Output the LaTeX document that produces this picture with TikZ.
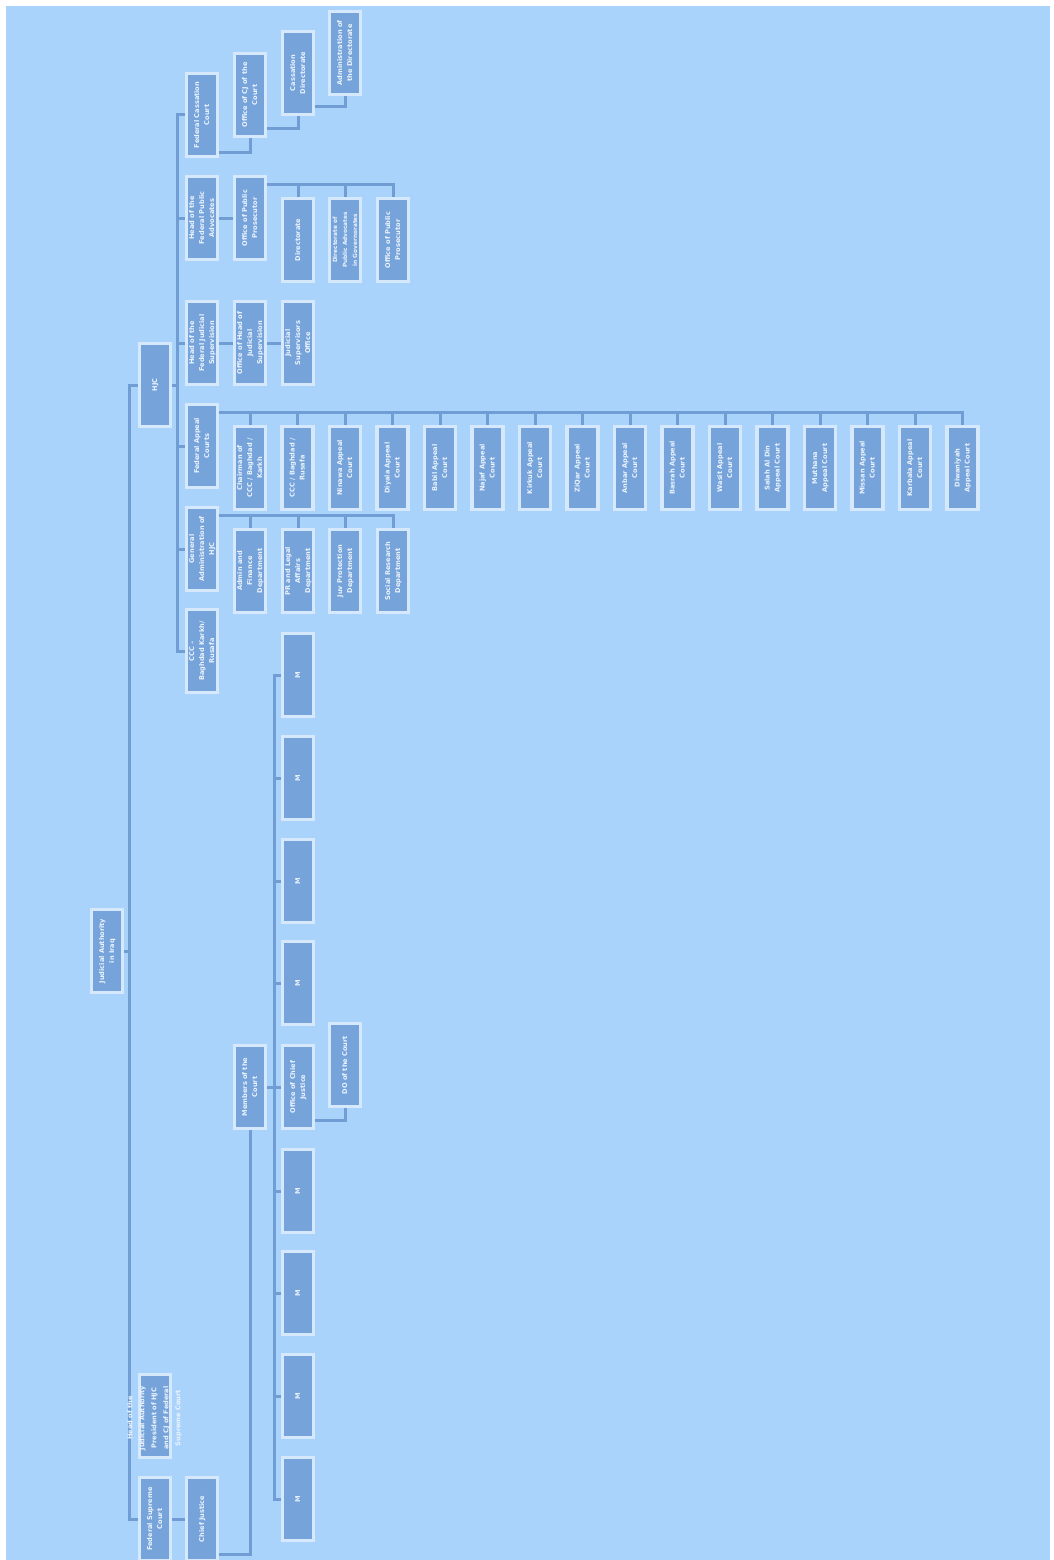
\documentclass[tikz,border=0pt]{standalone}
\usepackage{fontspec}
\setmainfont{DejaVu Sans}
\usepackage{graphicx}
\definecolor{bg}{RGB}{170,211,252}
\definecolor{boxf}{RGB}{118,163,217}
\definecolor{boxd}{RGB}{214,233,252}
\definecolor{conn}{RGB}{112,157,212}
\definecolor{txt}{RGB}{236,244,255}
\newcommand{\rt}[1]{\rotatebox{90}{\begin{tabular}{@{}c@{}}#1\end{tabular}}}
\tikzset{
  box/.style={draw=boxd, line width=3.5pt, fill=boxf, minimum width=31pt, minimum height=83pt,
    inner sep=0pt, text=txt, font=\fontsize{6.6}{10}\selectfont\bfseries},
  cn/.style={draw=conn, line width=3pt},
}
\begin{document}
\begin{tikzpicture}[x=1pt,y=-1pt]
\useasboundingbox (0,0) rectangle (1054,1560);
\fill[white] (0,0) rectangle (1054,1560);
\fill[bg] (6,6) rectangle (1050,1560);

% root and top level
\node[box] (ja) at (107,951) {\rt{Judicial Authority\\in Iraq}};
\node[box] (hjc) at (155,385) {\rt{HJC}};
\node[box] (fsc) at (155,1519) {\rt{Federal Supreme\\Court}};
\node[box] (cj) at (202,1519) {\rt{Chief Justice}};
\node[box] (hoja) at (155,1416) {};

% HJC children
\node[box] (fcc) at (202,115) {\rt{Federal Cassation\\Court}};
\node[box] (hpa) at (202,218) {\rt{Head of the\\Federal Public\\Advocates}};
\node[box] (hjs) at (202,343) {\rt{Head of the\\Federal Judicial\\Supervision}};
\node[box] (fac) at (202,446) {\rt{Federal Appeal\\Courts}};
\node[box] (gah) at (202,549) {\rt{General\\Administration of\\HJC}};
\node[box] (ccc) at (202,651) {\rt{CCC --\\Baghdad Karkh/\\Rusafa}};

% cassation chain
\node[box] (ocj) at (250,95) {\rt{Office of CJ of the\\Court}};
\node[box] (cdir) at (298,73) {\rt{Cassation\\Directorate}};
\node[box] (adir) at (345,53) {\rt{Administration of\\the Directorate}};

% public advocates
\node[box] (opp) at (250,218) {\rt{Office of Public\\Prosecutor}};
\node[box] (dir) at (298,240) {\rt{Directorate}};
\node[box, font=\fontsize{5.8}{10}\selectfont\bfseries] (dpa) at (345,240) {\rt{Directorate of\\Public Advocates\\in Governorates}};
\node[box] (oppb) at (393,240) {\rt{Office of Public\\Prosecutor}};

% judicial supervision
\node[box] (ohj) at (250,343) {\rt{Office of Head of\\Judicial\\Supervision}};
\node[box] (jso) at (298,343) {\rt{Judicial\\Supervisors\\Office}};

% appeal courts
\node[box] (a1) at (250,468) {\rt{Chairman of\\CCC / Baghdad /\\Karkh}};
\node[box] (a2) at (297.5,468) {\rt{CCC / Baghdad /\\Rusafa}};
\node[box] (a3) at (345,468) {\rt{Ninawa Appeal\\Court}};
\node[box] (a4) at (392.5,468) {\rt{Diyala Appeal\\Court}};
\node[box] (a5) at (440,468) {\rt{Babil Appeal\\Court}};
\node[box] (a6) at (487.5,468) {\rt{Najaf Appeal\\Court}};
\node[box] (a7) at (535,468) {\rt{Kirkuk Appeal\\Court}};
\node[box] (a8) at (582.5,468) {\rt{ZiQar Appeal\\Court}};
\node[box] (a9) at (630,468) {\rt{Anbar Appeal\\Court}};
\node[box] (a10) at (677.5,468) {\rt{Basrah Appeal\\Court}};
\node[box] (a11) at (725,468) {\rt{Wasit Appeal\\Court}};
\node[box] (a12) at (772.5,468) {\rt{Salah Al Din\\Appeal Court}};
\node[box] (a13) at (820,468) {\rt{Muthana\\Appeal Court}};
\node[box] (a14) at (867.5,468) {\rt{Missan Appeal\\Court}};
\node[box] (a15) at (915,468) {\rt{Karbala Appeal\\Court}};
\node[box] (a16) at (962.5,468) {\rt{Diwaniyah\\Appeal Court}};

% departments
\node[box] (d1) at (250,571) {\rt{Admin and\\Finance\\Department}};
\node[box] (d2) at (298,571) {\rt{PR and Legal\\Affairs\\Department}};
\node[box] (d3) at (345,571) {\rt{Juv Protection\\Department}};
\node[box] (d4) at (393,571) {\rt{Social Research\\Department}};

% supreme court members
\node[box] (mem) at (250,1087) {\rt{Members of the\\Court}};
\node[box] (m1) at (298,675) {\rt{M}};
\node[box] (m2) at (298,778) {\rt{M}};
\node[box] (m3) at (298,881) {\rt{M}};
\node[box] (m4) at (298,983) {\rt{M}};
\node[box] (ocjs) at (298,1087) {\rt{Office of Chief\\Justice}};
\node[box] (m5) at (298,1191) {\rt{M}};
\node[box] (m6) at (298,1293) {\rt{M}};
\node[box] (m7) at (298,1396) {\rt{M}};
\node[box] (m8) at (298,1499) {\rt{M}};
\node[box] (doc) at (345,1065) {\rt{DO of the Court}};

% connectors: main
\draw[cn] (hjc.west) -- ++(-8,0) |- (fsc.west);
\coordinate (mb) at (130,951);
\draw[cn] (ja.east) -- (mb);

% HJC bus
\draw[cn] (fcc.west) -- ++(-7,0) |- (ccc.west);
\foreach \n in {hpa,hjs,fac,gah} \draw[cn] (\n.west) -- ++(-7,0);
\draw[cn] (hjc.east) -- ++(6,0);

% cassation chain
\draw[cn] (fcc.south east) ++(0,-6) -| (ocj.south);
\draw[cn] (ocj.south east) ++(0,-10) -| (cdir.south);
\draw[cn] (cdir.south east) ++(0,-10) -| (adir.south);

% public advocates
\draw[cn] (hpa.east) -- (opp.west);
\draw[cn] (opp.north east) ++(0,10) -| (oppb.north);
\foreach \n in {dir,dpa} \draw[cn] (\n.north) -- ++(0,-12);

% judicial supervision
\draw[cn] (hjs.east) -- (ohj.west);
\draw[cn] (ohj.east) -- (jso.west);

% appeal bus
\draw[cn] (fac.north east) ++(0,10) -| (a16.north);
\foreach \n in {a1,a2,a3,a4,a5,a6,a7,a8,a9,a10,a11,a12,a13,a14,a15} \draw[cn] (\n.north) -- ++(0,-12);

% department bus
\draw[cn] (gah.north east) ++(0,10) -| (d4.north);
\foreach \n in {d1,d2,d3} \draw[cn] (\n.north) -- ++(0,-12);

% supreme court
\draw[cn] (fsc.east) -- (cj.west);
\draw[cn] (cj.south east) ++(0,-8) -| (mem.south);
\draw[cn] (m1.west) -- ++(-6,0) |- (m8.west);
\foreach \n in {m2,m3,m4,ocjs,m5,m6,m7} \draw[cn] (\n.west) -- ++(-6,0);
\draw[cn] (mem.east) -- ++(8,0);
\draw[cn] (ocjs.south east) ++(0,-10) -| (doc.south);

% overflowing text of the head of judicial authority box
\node[text=txt, font=\fontsize{6.6}{12}\selectfont\bfseries] (hojat) at (154,1418) {\rt{Head of the\\Judicial Authority\\President of HJC\\and CJ of Federal\\Supreme Court}};
\end{tikzpicture}
\end{document}
